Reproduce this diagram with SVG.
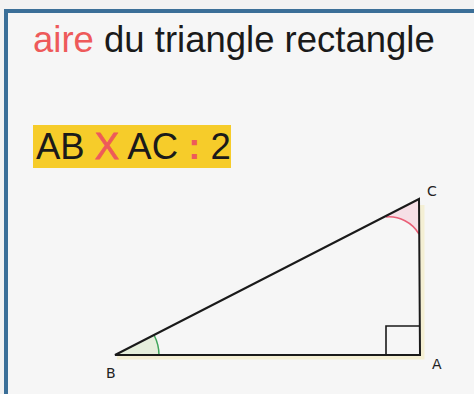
<svg xmlns="http://www.w3.org/2000/svg" width="474" height="394" viewBox="0 0 474 394">
<style>
.t{font-family:"Liberation Sans",Arial,sans-serif;fill:#1a1a1a}
.red{fill:#ee5a5a}
.lbl{font-family:"DejaVu Sans","Liberation Sans",sans-serif;font-size:14px;fill:#222}
.edge{stroke:#1a1a1a;stroke-width:2;fill:none}
.glow{stroke:#f4efd4;stroke-width:5;fill:none}
</style>
<rect x="0" y="0" width="474" height="394" fill="#f2f2f2"/>
<rect x="6" y="11" width="480" height="400" fill="#f6f6f6" stroke="#3b6f98" stroke-width="4"/>
<g id="title">
<text class="t" x="33" y="52" font-size="36.5"><tspan class="red">aire</tspan> du triangle rectangle</text>
</g>
<g id="formula">
<rect x="33" y="125" width="198" height="43" fill="#f6cc2a"/>
<text class="t" x="36" y="159" font-size="36.5">AB <tspan class="red" stroke="#ee5a5a" stroke-width="0.8">X</tspan> AC <tspan class="red" font-weight="bold">:</tspan> 2</text>
</g>
<g id="triangle">
<path class="glow" d="M117 357 H422 V205"/>
<path d="M419 199 L419 234 A35 35 0 0 0 386 217 Z" fill="#f6dfe6"/>
<path d="M419 234 A35 35 0 0 0 386 217" fill="none" stroke="#ea5f77" stroke-width="1.5"/>
<path d="M115 355 L159 355 A44 44 0 0 0 154 335 Z" fill="#e6efdc"/>
<path d="M159 355 A44 44 0 0 0 154 335" fill="none" stroke="#3fa65a" stroke-width="1.5"/>
<path class="edge" d="M115 355 L420 355 L419 199 Z" stroke-linejoin="miter"/>
<path d="M386 355 V326 H420" fill="none" stroke="#1a1a1a" stroke-width="1.6"/>
</g>
<g id="labels">
<text class="lbl" x="427" y="196">C</text>
<text class="lbl" x="106" y="378">B</text>
<text class="lbl" x="432" y="369">A</text>
</g>
</svg>
